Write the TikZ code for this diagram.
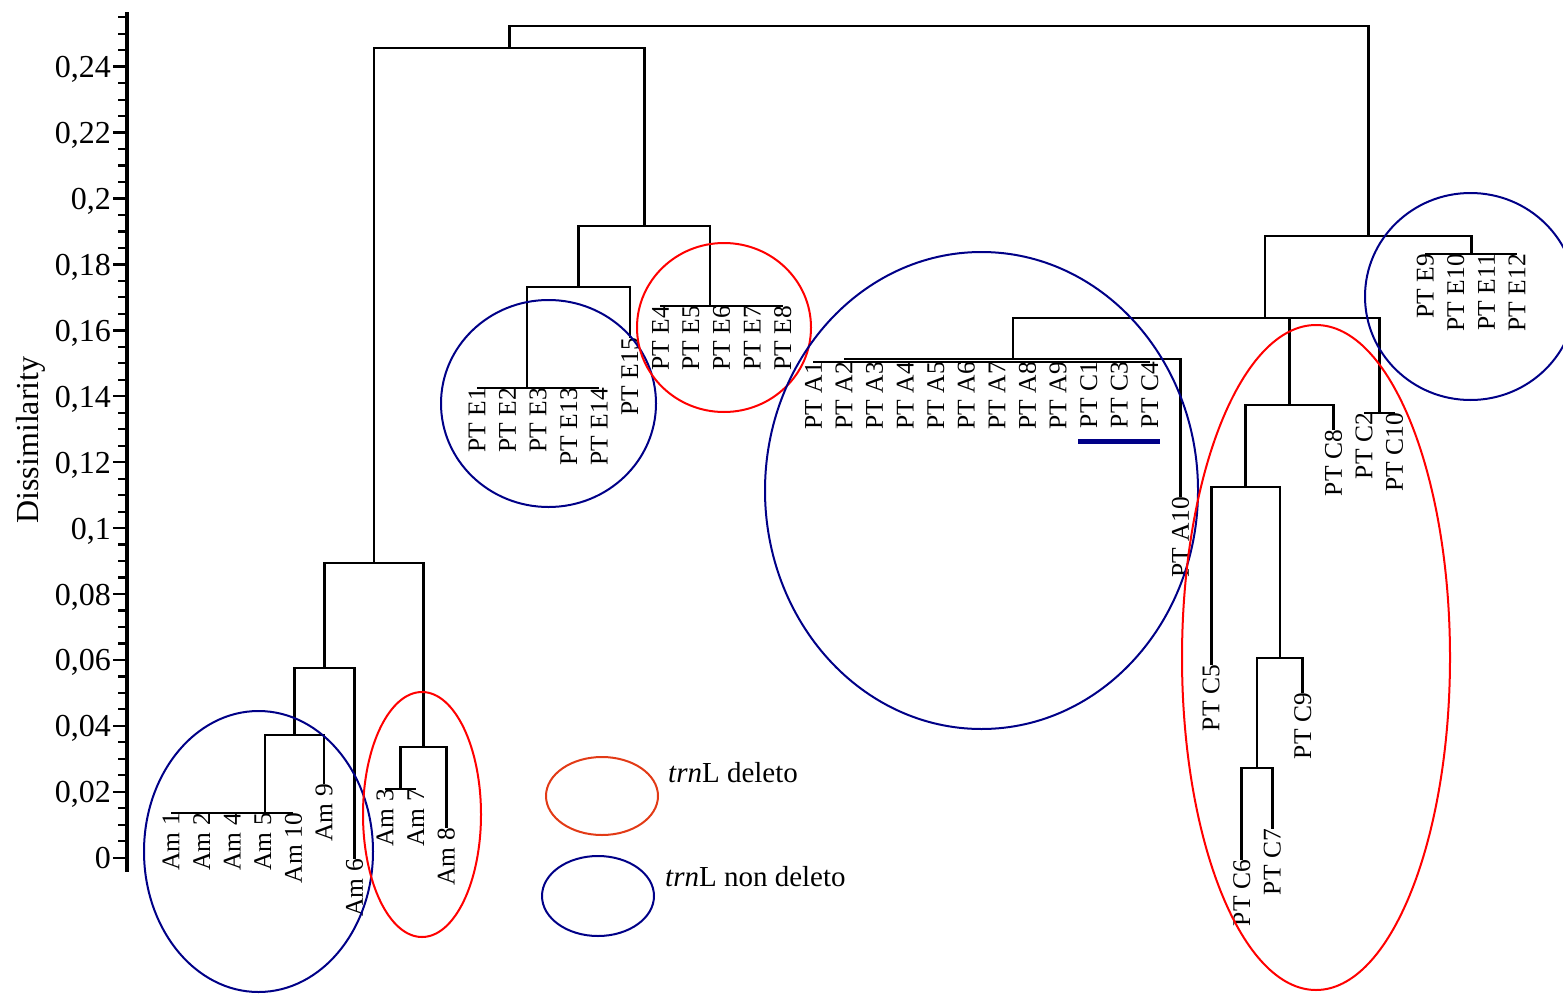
\documentclass[tikz,border=0pt]{standalone}
\usepackage{fontspec}
\setmainfont{Liberation Serif}
\definecolor{navyb}{RGB}{0,0,135}
\definecolor{redc}{RGB}{255,0,0}
\definecolor{legred}{RGB}{226,58,22}
\begin{document}
\begin{tikzpicture}[x=1pt,y=-1pt,
  dline/.style={line width=2.8pt, line join=miter},
  lbl/.style={rotate=90, anchor=east, inner sep=0pt, font=\fontsize{25.5}{25.5}\selectfont},
  grpblue/.style={draw=navyb, line width=2pt},
  grpred/.style={draw=redc, line width=2pt},
  legred/.style={draw=legred, line width=2pt},
  axisline/.style={line width=4.5pt},
  majtick/.style={line width=2.4pt},
  mintick/.style={line width=2.2pt},
  ticklbl/.style={anchor=base east, inner sep=0pt, font=\fontsize{32}{32}\selectfont},
  legtxt/.style={anchor=base west, inner sep=0pt, font=\fontsize{29}{29}\selectfont},
  cbar/.style={draw=navyb, line width=5pt}]
\useasboundingbox (0,0) rectangle (1563,993);

% ---------- axis ----------
\draw[axisline] (127,12) -- (127,872);
\foreach \j in {1,...,51} \draw[mintick] (118,{857.7-16.48*\j}) -- (127,{857.7-16.48*\j});
\foreach \i/\t in {0/0,1/{0,02},2/{0,04},3/{0,06},4/{0,08},5/{0,1},6/{0,12},7/{0,14},8/{0,16},9/{0,18},10/{0,2},11/{0,22},12/{0,24}}{
  \draw[majtick] (113,{857.7-65.92*\i}) -- (127,{857.7-65.92*\i});
  \node[ticklbl] (t\i) at (111,{857.7-65.92*\i+11}) {\t};
}
\node[rotate=90, anchor=base, inner sep=0pt, font=\fontsize{32}{32}\selectfont] (ylab) at (38,440) {Dissimilarity};

% ---------- leaves ----------
\node[lbl] (am1)  at (171.0,813) {Am 1};
\node[lbl] (am2)  at (201.6,813) {Am 2};
\node[lbl] (am4)  at (232.2,813) {Am 4};
\node[lbl] (am5)  at (262.8,813) {Am 5};
\node[lbl] (am10) at (293.4,813) {Am 10};
\node[lbl] (am9)  at (324.0,784) {Am 9};
\node[lbl] (am6)  at (354.5,859) {Am 6};
\node[lbl] (am3)  at (385.1,789) {Am 3};
\node[lbl] (am7)  at (415.7,789) {Am 7};
\node[lbl] (am8)  at (446.3,828) {Am 8};
\node[lbl] (e1)   at (476.9,388) {PT E1};
\node[lbl] (e2)   at (507.5,388) {PT E2};
\node[lbl] (e3)   at (538.1,388) {PT E3};
\node[lbl] (e13)  at (568.7,388) {PT E13};
\node[lbl] (e14)  at (599.3,388) {PT E14};
\node[lbl] (e15)  at (629.9,338) {PT E15};
\node[lbl] (e4)   at (660.4,306) {PT E4};
\node[lbl] (e5)   at (691.0,306) {PT E5};
\node[lbl] (e6)   at (721.6,306) {PT E6};
\node[lbl] (e7)   at (752.2,306) {PT E7};
\node[lbl] (e8)   at (782.8,306) {PT E8};
\node[lbl] (a1)   at (813.4,362) {PT A1};
\node[lbl] (a2)   at (844.0,362) {PT A2};
\node[lbl] (a3)   at (874.6,362) {PT A3};
\node[lbl] (a4)   at (905.2,362) {PT A4};
\node[lbl] (a5)   at (935.8,362) {PT A5};
\node[lbl] (a6)   at (966.3,362) {PT A6};
\node[lbl] (a7)   at (996.9,362) {PT A7};
\node[lbl] (a8)   at (1027.5,362) {PT A8};
\node[lbl] (a9)   at (1058.1,362) {PT A9};
\node[lbl] (c1)   at (1088.7,362) {PT C1};
\node[lbl] (c3)   at (1119.3,362) {PT C3};
\node[lbl] (c4)   at (1149.9,362) {PT C4};
\node[lbl] (a10)  at (1180.5,497) {PT A10};
\node[lbl] (c5)   at (1211.1,665) {PT C5};
\node[lbl] (c6)   at (1241.7,860) {PT C6};
\node[lbl] (c7)   at (1272.2,829) {PT C7};
\node[lbl] (c9)   at (1302.8,693) {PT C9};
\node[lbl] (c8)   at (1333.4,430) {PT C8};
\node[lbl] (c2)   at (1364.0,413) {PT C2};
\node[lbl] (c10)  at (1394.6,413) {PT C10};
\node[lbl] (e9)   at (1425.2,254) {PT E9};
\node[lbl] (e10)  at (1455.8,254) {PT E10};
\node[lbl] (e11)  at (1486.4,254) {PT E11};
\node[lbl] (e12)  at (1517.0,254) {PT E12};

% ---------- merge points ----------
\coordinate (k1)  at (265,813);
\coordinate (m2)  at (294.5,735);
\coordinate (m3)  at (324.5,668);
\coordinate (m4)  at (400.4,789);
\coordinate (m5)  at (423.4,747);
\coordinate (m6)  at (374,563);
\coordinate (k2)  at (527,388);
\coordinate (m7)  at (578.5,287);
\coordinate (k3)  at (710,306);
\coordinate (m8)  at (644.2,226);
\coordinate (m9)  at (509.1,48);
\coordinate (kA)  at (1013,359);
\coordinate (m10) at (1257,768);
\coordinate (m11) at (1280,658);
\coordinate (m12) at (1245.5,487);
\coordinate (m13) at (1289.5,405);
\coordinate (k14) at (1379.3,413);
\coordinate (m15) at (1151,318);
\coordinate (m16) at (1265,318);
\coordinate (k17) at (1471.5,254);
\coordinate (m18) at (1368.5,236);
\coordinate (root) at (938.8,26);

% ---------- dendrogram ----------
\draw[dline] (am1.east) -- (am10.east);
\draw[dline] (k1) |- (m2) -| (am9.east);
\draw[dline] (m2) |- (m3) -| (am6.east);
\draw[dline] (am3.east) -- (am7.east);
\draw[dline] (m4) |- (m5) -| (am8.east);
\draw[dline] (m3) |- (m6) -| (m5);
\draw[dline] (e1.east) -- (e14.east);
\draw[dline] (k2) |- (m7) -| (e15.east);
\draw[dline] (e4.east) -- (e8.east);
\draw[dline] (m7) |- (m8) -| (k3);
\draw[dline] (m6) |- (m9) -| (m8);
\draw[dline] (a1.east) -- (c4.east);
\draw[dline] (a2.east |- kA) -- (a10.east |- kA) -- (a10.east);
\draw[dline] (c6.east) |- (m10) -| (c7.east);
\draw[dline] (m10) |- (m11) -| (c9.east);
\draw[dline] (c5.east) |- (m12) -| (m11);
\draw[dline] (m12) |- (m13) -| (c8.east);
\draw[dline] (c2.east) -- (c10.east);
\draw[dline] (kA) |- (m15) -| (m13);
\draw[dline] (m15) |- (m16) -| (k14);
\draw[dline] (e9.east) -- (e12.east);
\draw[dline] (m16) |- (m18) -| (k17);
\draw[dline] (m9) |- (root) -| (m18);

% C1-C4 bar
\draw[cbar] (1078,441) -- (1160,441);

% ---------- group ellipses ----------
\draw[grpblue] (258.5,851.5) ellipse (114.5pt and 140.5pt);
\draw[grpred]  (422,814.5) ellipse (59pt and 122.5pt);
\draw[grpblue] (548.5,403.5) ellipse (107.5pt and 103.5pt);
\draw[grpred]  (724,327.5) ellipse (87pt and 84.5pt);
\draw[grpblue] (981.5,490.5) ellipse (216.5pt and 238.5pt);
\draw[grpred]  (1316,657.5) ellipse (134pt and 332.5pt);
\draw[grpblue] (1470.5,296.5) ellipse (105.5pt and 103.5pt);

% ---------- legend ----------
\draw[legred]  (602,796) ellipse (56pt and 39pt);
\draw[grpblue] (598,896) ellipse (56pt and 40pt);
\node[legtxt] (l1) at (668,782) {\textit{trn}L deleto};
\node[legtxt] (l2) at (665,886) {\textit{trn}L non deleto};
\end{tikzpicture}
\end{document}
